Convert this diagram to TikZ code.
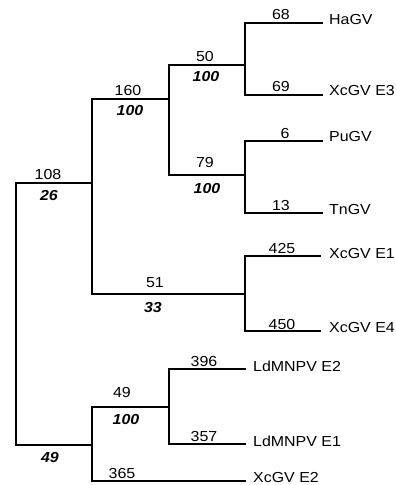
\documentclass[tikz,border=0pt]{standalone}
\usepackage{fontspec}
\setmainfont{Liberation Sans}[FakeStretch=1.1]
\begin{document}
\begin{tikzpicture}[x=1pt,y=1pt,
  branch/.style={line width=1.4pt, line cap=rect},
  len/.style={font=\fontsize{14.5}{16}\selectfont, inner sep=0pt},
  boot/.style={font=\fontsize{14.5}{16}\selectfont\bfseries\itshape, inner sep=0pt},
  taxon/.style={font=\fontsize{14.5}{16}\selectfont, inner sep=0pt, anchor=west}]
\useasboundingbox (0,0) rectangle (396,-485);
% coordinates
\coordinate (root) at (16,-183);
\coordinate (rootb) at (16,-445);
\coordinate (A) at (92,-183);
\coordinate (Atop) at (92,-99);
\coordinate (Abot) at (92,-294);
\coordinate (B) at (169,-99);
\coordinate (Btop) at (169,-65);
\coordinate (Bbot) at (169,-175);
\coordinate (C) at (245,-65);
\coordinate (Ctop) at (245,-23);
\coordinate (Cbot) at (245,-95);
\coordinate (D) at (245,-175);
\coordinate (Dtop) at (245,-141);
\coordinate (Dbot) at (245,-213);
\coordinate (E) at (245,-294);
\coordinate (Etop) at (245,-256);
\coordinate (Ebot) at (245,-331);
\coordinate (F) at (92,-445);
\coordinate (Ftop) at (92,-407);
\coordinate (Fbot) at (92,-481);
\coordinate (G) at (169,-407);
\coordinate (Gtop) at (169,-369);
\coordinate (Gbot) at (169,-444);
% leaf ends
\coordinate (l1) at (322,-23);
\coordinate (l2) at (322,-95);
\coordinate (l3) at (322,-141);
\coordinate (l4) at (322,-213);
\coordinate (l5) at (320,-256);
\coordinate (l6) at (320,-331);
\coordinate (l7) at (245,-369);
\coordinate (l8) at (245,-444);
\coordinate (l9) at (245,-481);
% branches
\draw[branch] (root) -- (rootb);
\draw[branch] (root) -- (A);
\draw[branch] (rootb) -- (F);
\draw[branch] (Atop) -- (Abot);
\draw[branch] (Atop) -- (B);
\draw[branch] (Abot) -- (E);
\draw[branch] (Btop) -- (Bbot);
\draw[branch] (Btop) -- (C);
\draw[branch] (Bbot) -- (D);
\draw[branch] (Ctop) -- (Cbot);
\draw[branch] (Dtop) -- (Dbot);
\draw[branch] (Etop) -- (Ebot);
\draw[branch] (Ctop) -- (l1);
\draw[branch] (Cbot) -- (l2);
\draw[branch] (Dtop) -- (l3);
\draw[branch] (Dbot) -- (l4);
\draw[branch] (Etop) -- (l5);
\draw[branch] (Ebot) -- (l6);
\draw[branch] (Ftop) -- (Fbot);
\draw[branch] (Ftop) -- (G);
\draw[branch] (Gtop) -- (Gbot);
\draw[branch] (Gtop) -- (l7);
\draw[branch] (Gbot) -- (l8);
\draw[branch] (Fbot) -- (l9);
% branch lengths
\node[len] (n108) at (48,-175) {108};
\node[len] (n160) at (128,-91) {160};
\node[len] (n50) at (205,-57) {50};
\node[len] (n79) at (205,-163) {79};
\node[len] (n68) at (281,-15) {68};
\node[len] (n69) at (281,-87) {69};
\node[len] (n6) at (285,-134) {6};
\node[len] (n13) at (281,-206) {13};
\node[len] (n51) at (155,-283) {51};
\node[len] (n425) at (282,-249) {425};
\node[len] (n450) at (282,-325) {450};
\node[len] (n49) at (122,-393) {49};
\node[len] (n396) at (204,-362) {396};
\node[len] (n357) at (204,-437) {357};
\node[len] (n365) at (122,-474) {365};
% bootstrap values
\node[boot] (b26) at (49,-196) {26};
\node[boot] (b100a) at (130,-111) {100};
\node[boot] (b100b) at (206,-77) {100};
\node[boot] (b100c) at (207,-189) {100};
\node[boot] (b33) at (153,-308) {33};
\node[boot] (b100d) at (126,-420) {100};
\node[boot] (b49) at (50,-458) {49};
% taxa
\node[taxon] (t1) at (329,-20) {HaGV};
\node[taxon] (t2) at (329,-91) {XcGV E3};
\node[taxon] (t3) at (329,-137) {PuGV};
\node[taxon] (t4) at (329,-210) {TnGV};
\node[taxon] (t5) at (329,-254) {XcGV E1};
\node[taxon] (t6) at (329,-328) {XcGV E4};
\node[taxon] (t7) at (253,-366) {LdMNPV E2};
\node[taxon] (t8) at (253,-441) {LdMNPV E1};
\node[taxon] (t9) at (253,-477.5) {XcGV E2};
\end{tikzpicture}
\end{document}
